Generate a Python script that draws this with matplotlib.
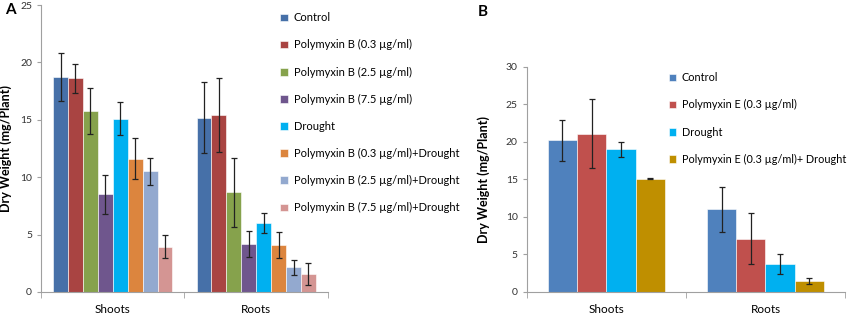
import matplotlib.pyplot as plt
import numpy as np

plt.rcParams['font.family'] = ['Lato', 'DejaVu Sans']

groups = ['Shoots', 'Roots']

# panel A
a_labels = ['Control', 'Polymyxin B (0.3 µg/ml)', 'Polymyxin B (2.5 µg/ml)',
            'Polymyxin B (7.5 µg/ml)', 'Drought',
            'Polymyxin B (0.3 µg/ml)+Drought', 'Polymyxin B (2.5 µg/ml)+Drought',
            'Polymyxin B (7.5 µg/ml)+Drought']
a_shoots = [18.7, 18.6, 15.8, 8.5, 15.1, 11.6, 10.5, 3.95]
a_shoots_err = [2.1, 1.3, 2.0, 1.7, 1.45, 1.8, 1.2, 1.0]
a_roots = [15.2, 15.4, 8.7, 4.2, 6.0, 4.1, 2.15, 1.55]
a_roots_err = [3.1, 3.2, 3.0, 1.15, 0.85, 1.1, 0.65, 0.95]
a_colors = ['#4670A8', '#A94442', '#86A24C', '#6F568D', '#00B0F0',
            '#DC853E', '#93A9CF', '#D49593']

# panel B
b_labels = ['Control', 'Polymyxin E (0.3 µg/ml)', 'Drought',
            'Polymyxin E (0.3 µg/ml)+ Drought']
b_shoots = [20.2, 21.1, 19.0, 15.1]
b_shoots_err = [2.7, 4.65, 1.0, 0.05]
b_roots = [11.0, 7.1, 3.7, 1.45]
b_roots_err = [3.0, 3.4, 1.35, 0.45]
b_colors = ['#4F81BD', '#C0504D', '#00B0F0', '#BF8F00']

fig = plt.figure(figsize=(8.51, 3.14), dpi=100)
axA = fig.add_axes([0.0482, 0.0701, 0.3372, 0.9139])
axB = fig.add_axes([0.619, 0.0701, 0.374, 0.7175])


def draw(ax, labels, shoots, s_err, roots, r_err, colors, width, ymax):
    n = len(labels)
    x = np.arange(len(groups))
    for i in range(n):
        off = (i - (n - 1) / 2) * width
        ax.bar(x + off, [shoots[i], roots[i]], width, color=colors[i],
               edgecolor='white', linewidth=0.4, label=labels[i],
               yerr=[s_err[i], r_err[i]], capsize=2.5,
               error_kw=dict(elinewidth=0.9, ecolor='#222222', capthick=0.9))
    ax.set_xlim(-0.5, 1.5)
    ax.set_ylim(0, ymax)
    ax.set_yticks(np.arange(0, ymax + 1, 5))
    ax.set_xticks([0, 1])
    ax.set_xticklabels(groups, fontsize=8.5)
    ax.set_xticks([-0.5, 0.5, 1.5], minor=True)
    ax.tick_params(axis='x', which='major', length=0, pad=9)
    ax.tick_params(axis='x', which='minor', length=4, color='#a0a0a0')
    ax.tick_params(axis='y', length=3, color='#a0a0a0', labelsize=7.5,
                   labelcolor='#333333')
    for s in ['top', 'right']:
        ax.spines[s].set_visible(False)
    for s in ['left', 'bottom']:
        ax.spines[s].set_color('#a0a0a0')
    ax.set_ylabel('Dry Weight (mg/Plant)', fontsize=9, fontweight='bold')


draw(axA, a_labels, a_shoots, a_shoots_err, a_roots, a_roots_err, a_colors, 0.104, 25)
draw(axB, b_labels, b_shoots, b_shoots_err, b_roots, b_roots_err, b_colors, 0.184, 30)
axA.yaxis.set_label_coords(-0.1, 0.5)
axB.yaxis.set_label_coords(-0.115, 0.5)

axA.legend(loc='upper left', bbox_to_anchor=(0.818, 0.99), frameon=False,
           fontsize=8, handlelength=0.7, handleheight=0.7,
           handletextpad=0.5, labelspacing=1.45, borderaxespad=0)
axB.legend(loc='upper left', bbox_to_anchor=(0.433, 0.995), frameon=False,
           fontsize=7.8, handlelength=0.7, handleheight=0.7,
           handletextpad=0.5, labelspacing=1.5, borderaxespad=0)

fig.text(0.006, 0.99, 'A', fontsize=11, fontweight='bold', va='top')
fig.text(0.561, 0.985, 'B', fontsize=11, fontweight='bold', va='top')

fig.savefig('out.png', dpi=100)
